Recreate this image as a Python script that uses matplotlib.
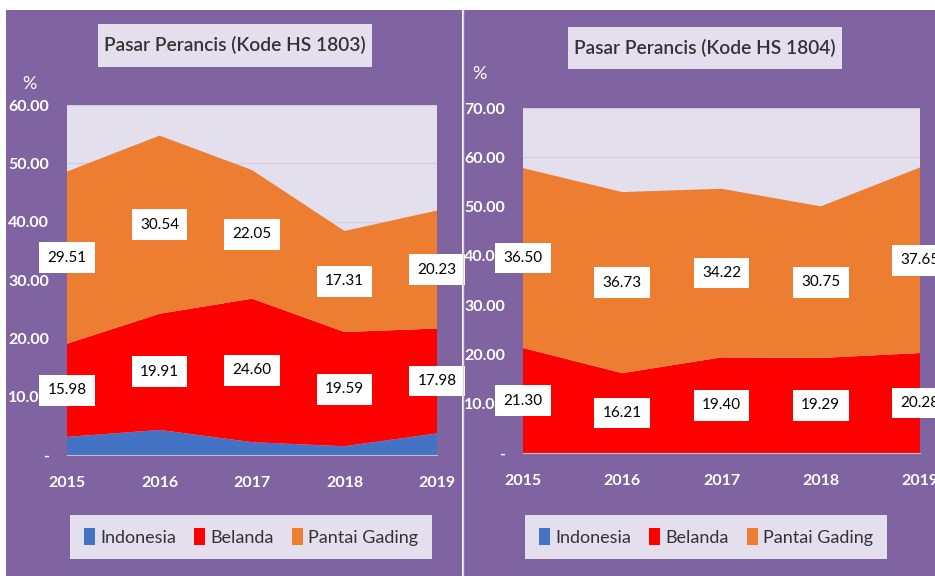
import matplotlib
matplotlib.use('Agg')
import matplotlib.pyplot as plt
from matplotlib.patches import Rectangle, Patch

# data
years = [2015, 2016, 2017, 2018, 2019]
series = ['Indonesia', 'Belanda', 'Pantai Gading']

indo_1803 = [3.1, 4.3, 2.2, 1.5, 3.7]
bel_1803 = [15.98, 19.91, 24.60, 19.59, 17.98]
pg_1803 = [29.51, 30.54, 22.05, 17.31, 20.23]

indo_1804 = [0.0, 0.0, 0.0, 0.0, 0.0]
bel_1804 = [21.30, 16.21, 19.40, 19.29, 20.28]
pg_1804 = [36.50, 36.73, 34.22, 30.75, 37.65]

colors = ['#4472C4', '#FF0000', '#ED7D31']
purple = '#8064A2'
lav = '#E3DFED'
dark = '#333333'

plt.rcParams['font.family'] = ['Lato', 'DejaVu Sans']

W, H = 935, 576
fig = plt.figure(figsize=(W / 100, H / 100), dpi=100)
fig.patch.set_facecolor('white')


def fx(px):
    return px / W


def fy(py):
    return 1 - py / H


# purple panels (behind the axes)
fig.patches.append(Rectangle((fx(6), 0), fx(456), fy(10), transform=fig.transFigure,
                             facecolor=purple, edgecolor='none', zorder=-10))
fig.patches.append(Rectangle((fx(464), 0), fx(471), fy(10), transform=fig.transFigure,
                             facecolor=purple, edgecolor='none', zorder=-10))


def panel(rect, indo, bel, pg, ymax, title, tbox, pcx, pcy, lcx):
    ax = fig.add_axes(rect)
    ax.set_facecolor(lav)
    ax.stackplot(years, indo, bel, pg, colors=colors, zorder=2)
    ax.set_xlim(2015, 2019)
    ax.set_ylim(0, ymax)
    ticks = list(range(0, ymax + 1, 10))
    ax.set_yticks(ticks)
    ax.set_yticklabels(['-'] + ['%.2f' % t for t in ticks[1:]])
    ax.set_xticks(years)
    ax.set_xticklabels([str(y) for y in years])
    ax.tick_params(length=0, colors='white', labelsize=11.5)
    ax.tick_params(axis='y', pad=13)
    ax.tick_params(axis='x', pad=15)
    for lab in ax.get_xticklabels() + ax.get_yticklabels():
        lab.set_fontweight('bold')
    ax.grid(axis='y', color='#D4D0DA', linewidth=1, zorder=1)
    ax.set_axisbelow(True)
    for s in ['top', 'right', 'left']:
        ax.spines[s].set_visible(False)
    ax.spines['bottom'].set_color('#BFBFBF')

    # data labels in the middle of each band
    for i, x in enumerate(years):
        mid_b = indo[i] + bel[i] / 2
        mid_p = indo[i] + bel[i] + pg[i] / 2
        for v, yv in [(bel[i], mid_b), (pg[i], mid_p)]:
            ax.text(x, yv, '%.2f' % v, ha='center', va='center', fontsize=11,
                    color='black', zorder=5, clip_on=False,
                    bbox=dict(facecolor='white', edgecolor='none',
                              boxstyle='square,pad=0.55'))

    # title box
    x0, y0, x1, y1 = tbox
    fig.patches.append(Rectangle((fx(x0), fy(y1)), fx(x1 - x0), (y1 - y0) / H,
                                 transform=fig.transFigure, facecolor=lav,
                                 edgecolor='none', zorder=1))
    fig.text(fx((x0 + x1) / 2), fy((y0 + y1) / 2), title, ha='center', va='center',
             fontsize=13.8, fontweight='semibold', color=dark, zorder=2)
    fig.text(fx(pcx), fy(pcy), '%', ha='center', va='center', fontsize=13,
             color='white')

    handles = [Patch(facecolor=c, edgecolor='none') for c in colors]
    leg = fig.legend(handles, series, loc='center', bbox_to_anchor=(fx(lcx), fy(537)),
                     ncol=3, frameon=True, fontsize=13, handlelength=0.6,
                     handleheight=1.1, handletextpad=0.3, columnspacing=1.0,
                     borderpad=0.75, fancybox=False)
    leg.get_frame().set_facecolor(lav)
    leg.get_frame().set_edgecolor('none')
    leg.get_frame().set_alpha(1)
    for t in leg.get_texts():
        t.set_color(dark)
    return ax


panel([fx(67), fy(455), fx(370), 350 / H], indo_1803, bel_1803, pg_1803, 60,
      'Pasar Perancis (Kode HS 1803)', (98, 24, 372, 67), 29, 84, 251)
panel([fx(523), fy(453), fx(397), 345 / H], indo_1804, bel_1804, pg_1804, 70,
      'Pasar Perancis (Kode HS 1804)', (568, 27, 842, 69), 479, 74, 706)

# divider between the two panels
fig.add_artist(plt.Line2D([fx(463), fx(463)], [0, fy(10)], transform=fig.transFigure,
                          color='#D9D2E6', linewidth=1))

fig.savefig('out.png', dpi=100)
